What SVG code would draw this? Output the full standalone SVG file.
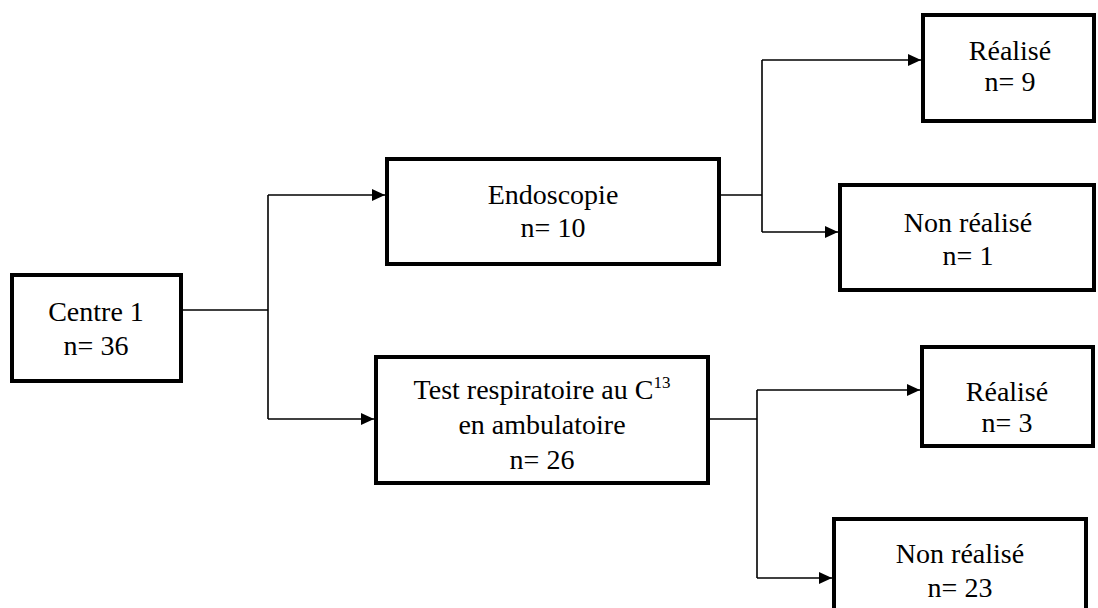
<svg xmlns="http://www.w3.org/2000/svg" width="1098" height="608" viewBox="0 0 1098 608">
<style>
.box{fill:#fff;stroke:#000;stroke-width:4}
.t{font-family:"Liberation Serif","Times New Roman",serif;font-size:28px;fill:#000;text-anchor:middle}
.c{fill:none;stroke:#000;stroke-width:1.6}
</style>
<defs>
<marker id="ah" markerUnits="userSpaceOnUse" markerWidth="14" markerHeight="12" refX="13" refY="6" orient="auto">
<path d="M0,0 L13,6 L0,12 z" fill="#000"/>
</marker>
</defs>
<rect width="1098" height="608" fill="#fff"/>
<g id="connectors">
<path class="c" d="M183,310 H268"/>
<path class="c" d="M268,195 V419"/>
<path class="c" d="M268,195 H385" marker-end="url(#ah)"/>
<path class="c" d="M268,419 H374" marker-end="url(#ah)"/>
<path class="c" d="M721,195 H762"/>
<path class="c" d="M762,60 V232"/>
<path class="c" d="M762,60 H921" marker-end="url(#ah)"/>
<path class="c" d="M762,232 H838" marker-end="url(#ah)"/>
<path class="c" d="M710,419 H757"/>
<path class="c" d="M757,390 V578"/>
<path class="c" d="M757,390 H920" marker-end="url(#ah)"/>
<path class="c" d="M757,578 H832" marker-end="url(#ah)"/>
</g>
<g id="centre">
<rect class="box" x="12" y="275" width="169" height="106"/>
<text class="t" x="96" y="321">Centre 1</text>
<text class="t" x="96" y="355">n= 36</text>
</g>
<g id="endoscopie">
<rect class="box" x="387" y="159" width="332" height="105"/>
<text class="t" x="553" y="204">Endoscopie</text>
<text class="t" x="553" y="237">n= 10</text>
</g>
<g id="test">
<rect class="box" x="376" y="357" width="332" height="126"/>
<text class="t" x="542" y="399">Test respiratoire au C<tspan font-size="17" dy="-11">13</tspan></text>
<text class="t" x="542" y="434">en ambulatoire</text>
<text class="t" x="542" y="469">n= 26</text>
</g>
<g id="realise1">
<rect class="box" x="923" y="15" width="171" height="106"/>
<text class="t" x="1010" y="60">Réalisé</text>
<text class="t" x="1010" y="91">n= 9</text>
</g>
<g id="nonrealise1">
<rect class="box" x="840" y="185" width="254" height="105"/>
<text class="t" x="968" y="232">Non réalisé</text>
<text class="t" x="968" y="265">n= 1</text>
</g>
<g id="realise2">
<rect class="box" x="922" y="347" width="171" height="99"/>
<text class="t" x="1007" y="401">Réalisé</text>
<text class="t" x="1007" y="432">n= 3</text>
</g>
<g id="nonrealise2">
<rect class="box" x="834" y="519" width="252" height="100"/>
<text class="t" x="960" y="563">Non réalisé</text>
<text class="t" x="960" y="597">n= 23</text>
</g>
</svg>
